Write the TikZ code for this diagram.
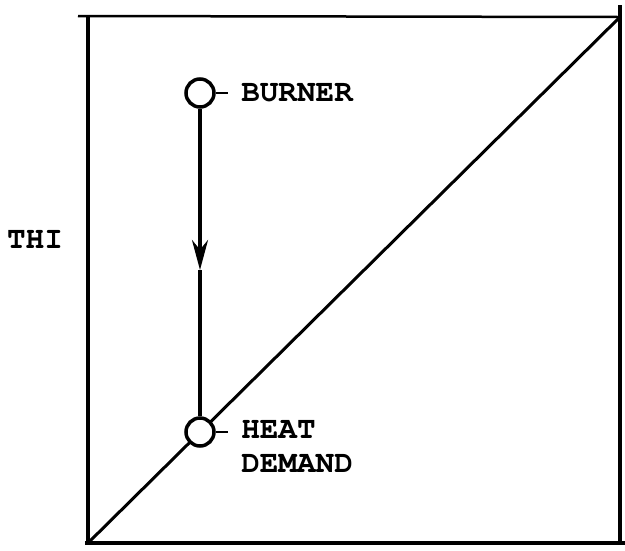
\documentclass[tikz,border=0pt]{standalone}
\usepackage[T1]{fontenc}
\usepackage{courier}
\renewcommand{\familydefault}{\ttdefault}
\usetikzlibrary{arrows.meta, positioning}

\begin{document}
\begin{tikzpicture}[x=1pt, y=-1pt, line width=3pt, node distance=25pt,
        font=\fontsize{31}{34}\selectfont\bfseries,
        point/.style={circle, draw, fill=white, line width=3.5pt, minimum size=28pt, inner sep=0pt},
        tick/.style={line width=2.5pt}]
        \useasboundingbox (0,0) rectangle (625,550);

        % frame corners
        \coordinate (o)  at (88,543);
        \coordinate (tl) at (88,16);
        \coordinate (tr) at (620,17);
        \coordinate (br) at (620,543);

        \draw[line width=4pt] (o) -- (tl);
        \draw[line width=2.5pt] ([xshift=-10pt]tl) -- (tr);
        \draw[line width=3.5pt] ([yshift=12pt]tr) -- (br);
        \draw[line width=3.5pt] ([xshift=-3pt]o) -- ([xshift=5pt]br);
        \draw (o) -- (tr);

        \node (thi) at (35,240) {THI};

        \node[point] (burner) at (200,93) {};
        \node[point] (heat)   at (200,432) {};
        \coordinate (mid) at (200,270);

        \draw[line width=3.5pt, -{Stealth[length=30pt, width=16pt]}] (burner) -- (mid);
        \draw[line width=3.5pt] (mid) -- (heat);

        \coordinate[right=12pt of burner.east] (b1);
        \coordinate[right=12pt of heat.east] (h1);
        \draw[tick] (burner.east) -- (b1);
        \draw[tick] (heat.east) -- (h1);

        \node[right=12pt of b1, inner sep=0pt] (burnerlbl) {BURNER};
        \node[right=12pt of h1, inner sep=0pt, yshift=-15pt, align=left] (heatlbl) {HEAT\\DEMAND};
\end{tikzpicture}
\end{document}
